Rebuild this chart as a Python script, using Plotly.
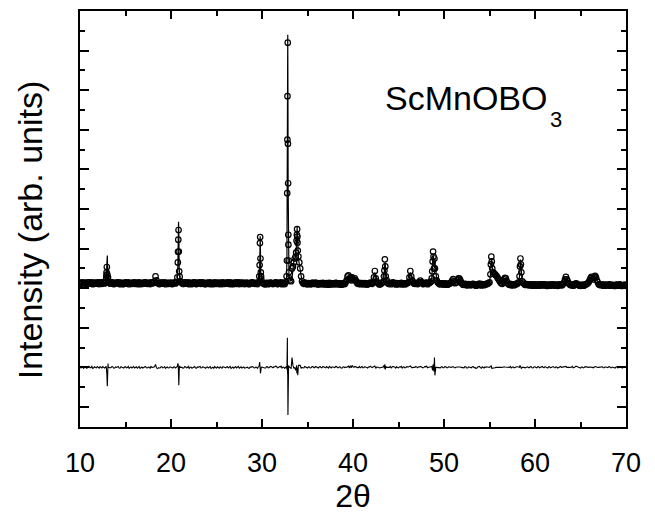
import numpy as np
import plotly.graph_objects as go

# Powder pattern of ScMnOBO3: observed counts on a 0.1 deg scan grid (10..70 deg),
# the refined (calculated) profile on the same grid, plus extra points across the
# sharp reflections. Intensities are in arbitrary units.
scan_start = 10.0
scan_step = 0.1

# one row per degree: values at x.0, x.1, ..., x.9
obs_scan = [
    6.25, 6.22, 6.30, 6.26, 6.20, 6.28, 6.27, 6.21, 6.22, 6.29,   # 10
    6.30, 6.24, 6.24, 6.30, 6.20, 6.23, 6.28, 6.25, 6.23, 6.29,   # 11
    6.26, 6.21, 6.30, 6.27, 6.22, 6.29, 6.27, 6.24, 6.30, 6.65,   # 12
    6.70, 6.35, 6.30, 6.24, 6.24, 6.29, 6.28, 6.21, 6.22, 6.27,   # 13
    6.25, 6.29, 6.30, 6.22, 6.21, 6.28, 6.26, 6.20, 6.22, 6.27,   # 14
    6.29, 6.23, 6.24, 6.30, 6.20, 6.25, 6.27, 6.22, 6.25, 6.29,   # 15
    6.22, 6.27, 6.28, 6.21, 6.25, 6.30, 6.20, 6.24, 6.27, 6.22,   # 16
    6.24, 6.29, 6.30, 6.23, 6.22, 6.27, 6.26, 6.21, 6.30, 6.25,   # 17
    6.25, 6.28, 6.35, 6.60, 6.40, 6.27, 6.25, 6.21, 6.22, 6.28,   # 18
    6.28, 6.23, 6.24, 6.29, 6.20, 6.25, 6.27, 6.22, 6.23, 6.28,   # 19
    6.26, 6.21, 6.22, 6.28, 6.28, 6.24, 6.30, 6.55, 8.45, 6.85,   # 20
    6.35, 6.30, 6.27, 6.22, 6.22, 6.29, 6.28, 6.23, 6.24, 6.30,   # 21
    6.20, 6.26, 6.27, 6.21, 6.24, 6.30, 6.29, 6.22, 6.21, 6.27,   # 22
    6.25, 6.28, 6.30, 6.22, 6.23, 6.29, 6.26, 6.21, 6.21, 6.26,   # 23
    6.28, 6.22, 6.24, 6.29, 6.20, 6.25, 6.26, 6.21, 6.30, 6.24,   # 24
    6.22, 6.28, 6.25, 6.21, 6.28, 6.24, 6.21, 6.29, 6.26, 6.22,   # 25
    6.23, 6.27, 6.29, 6.22, 6.24, 6.30, 6.20, 6.24, 6.27, 6.21,   # 26
    6.25, 6.29, 6.22, 6.25, 6.30, 6.21, 6.26, 6.28, 6.22, 6.27,   # 27
    6.27, 6.21, 6.23, 6.28, 6.26, 6.22, 6.20, 6.27, 6.25, 6.29,   # 28
    6.28, 6.23, 6.22, 6.27, 6.26, 6.21, 6.30, 6.60, 8.58, 6.60,   # 29
    6.30, 6.25, 6.24, 6.20, 6.20, 6.27, 6.26, 6.21, 6.22, 6.28,   # 30
    6.27, 6.23, 6.21, 6.26, 6.25, 6.29, 6.28, 6.21, 6.22, 6.27,   # 31
    6.25, 6.29, 6.20, 6.24, 6.27, 6.21, 6.30, 6.60, 15.70, 8.20,  # 32
    6.50, 6.40, 6.35, 7.00, 7.10, 7.30, 7.50, 7.60, 8.40, 8.30,   # 33
    7.60, 7.30, 7.00, 6.60, 6.35, 6.26, 6.22, 6.28, 6.26, 6.21,   # 34
    6.20, 6.26, 6.25, 6.20, 6.21, 6.27, 6.27, 6.22, 6.22, 6.28,   # 35
    6.24, 6.20, 6.19, 6.25, 6.26, 6.21, 6.21, 6.27, 6.25, 6.19,   # 36
    6.20, 6.26, 6.23, 6.18, 6.27, 6.22, 6.19, 6.25, 6.24, 6.20,   # 37
    6.21, 6.27, 6.26, 6.20, 6.20, 6.25, 6.24, 6.18, 6.19, 6.24,   # 38
    6.25, 6.21, 6.30, 6.40, 6.60, 6.65, 6.45, 6.55, 6.40, 6.55,   # 39
    6.45, 6.42, 6.50, 6.40, 6.30, 6.24, 6.22, 6.27, 6.20, 6.24,   # 40
    6.26, 6.20, 6.21, 6.26, 6.24, 6.19, 6.19, 6.25, 6.23, 6.28,   # 41
    6.25, 6.22, 6.30, 6.55, 6.87, 6.50, 6.35, 6.27, 6.24, 6.19,   # 42
    6.20, 6.25, 6.26, 6.32, 6.60, 7.46, 6.60, 6.40, 6.28, 6.22,   # 43
    6.22, 6.27, 6.20, 6.25, 6.30, 6.26, 6.24, 6.19, 6.26, 6.21,   # 44
    6.20, 6.25, 6.23, 6.27, 6.19, 6.24, 6.25, 6.20, 6.21, 6.26,   # 45
    6.26, 6.30, 6.55, 6.87, 6.60, 6.40, 6.30, 6.24, 6.22, 6.27,   # 46
    6.25, 6.21, 6.28, 6.30, 6.38, 6.31, 6.26, 6.21, 6.22, 6.27,   # 47
    6.24, 6.28, 6.20, 6.25, 6.27, 6.30, 6.35, 6.85, 7.85, 7.00,   # 48
    7.00, 6.60, 6.40, 6.30, 6.26, 6.21, 6.20, 6.25, 6.24, 6.19,   # 49
    6.19, 6.24, 6.23, 6.18, 6.18, 6.23, 6.22, 6.26, 6.30, 6.38,   # 50
    6.46, 6.35, 6.25, 6.28, 6.30, 6.42, 6.50, 6.48, 6.40, 6.28,   # 51
    6.22, 6.18, 6.17, 6.22, 6.21, 6.15, 6.15, 6.21, 6.20, 6.16,   # 52
    6.16, 6.21, 6.22, 6.17, 6.18, 6.13, 6.14, 6.20, 6.20, 6.23,   # 53
    6.17, 6.14, 6.21, 6.19, 6.15, 6.20, 6.19, 6.23, 6.22, 6.26,   # 54
    6.30, 6.70, 7.59, 7.00, 6.80, 6.75, 6.70, 6.65, 6.60, 6.52,   # 55
    6.45, 6.38, 6.30, 6.25, 6.22, 6.35, 6.45, 6.52, 6.50, 6.35,   # 56
    6.25, 6.20, 6.18, 6.22, 6.14, 6.18, 6.20, 6.15, 6.17, 6.22,   # 57
    6.21, 6.25, 6.30, 6.60, 7.50, 6.80, 6.35, 6.28, 6.22, 6.17,   # 58
    6.17, 6.21, 6.20, 6.15, 6.15, 6.20, 6.19, 6.13, 6.14, 6.19,   # 59
    6.18, 6.14, 6.13, 6.18, 6.19, 6.13, 6.15, 6.20, 6.20, 6.15,   # 60
    6.14, 6.19, 6.17, 6.12, 6.12, 6.18, 6.18, 6.13, 6.15, 6.20,   # 61
    6.19, 6.15, 6.13, 6.18, 6.17, 6.12, 6.14, 6.19, 6.20, 6.15,   # 62
    6.16, 6.22, 6.30, 6.45, 6.57, 6.45, 6.35, 6.25, 6.20, 6.16,   # 63
    6.16, 6.20, 6.13, 6.15, 6.18, 6.24, 6.22, 6.19, 6.15, 6.14,   # 64
    6.12, 6.17, 6.17, 6.13, 6.14, 6.20, 6.19, 6.22, 6.25, 6.30,   # 65
    6.40, 6.50, 6.57, 6.52, 6.45, 6.55, 6.62, 6.55, 6.40, 6.30,   # 66
    6.20, 6.18, 6.15, 6.19, 6.18, 6.13, 6.13, 6.18, 6.17, 6.14,   # 67
    6.14, 6.18, 6.19, 6.13, 6.13, 6.17, 6.16, 6.12, 6.12, 6.17,   # 68
    6.18, 6.13, 6.14, 6.19, 6.17, 6.12, 6.12, 6.16, 6.15, 6.18,   # 69
    6.12,                                                         # 70.0
]

calc_scan = [
    6.25, 6.25, 6.25, 6.25, 6.25, 6.25, 6.25, 6.25, 6.25, 6.25,   # 10
    6.25, 6.25, 6.25, 6.25, 6.25, 6.25, 6.25, 6.25, 6.25, 6.25,   # 11
    6.25, 6.25, 6.26, 6.26, 6.25, 6.25, 6.26, 6.27, 6.30, 6.70,   # 12
    7.65, 6.33, 6.30, 6.27, 6.25, 6.25, 6.25, 6.25, 6.25, 6.25,   # 13
    6.25, 6.25, 6.25, 6.25, 6.25, 6.25, 6.25, 6.25, 6.25, 6.25,   # 14
    6.25, 6.25, 6.25, 6.25, 6.25, 6.25, 6.25, 6.25, 6.25, 6.25,   # 15
    6.25, 6.25, 6.25, 6.25, 6.25, 6.25, 6.25, 6.25, 6.25, 6.25,   # 16
    6.25, 6.25, 6.25, 6.25, 6.25, 6.25, 6.25, 6.25, 6.25, 6.25,   # 17
    6.25, 6.27, 6.30, 6.45, 6.42, 6.33, 6.27, 6.25, 6.25, 6.25,   # 18
    6.25, 6.25, 6.25, 6.25, 6.25, 6.25, 6.25, 6.25, 6.25, 6.25,   # 19
    6.25, 6.25, 6.25, 6.25, 6.26, 6.27, 6.30, 6.50, 8.30, 7.00,   # 20
    6.35, 6.30, 6.27, 6.26, 6.25, 6.25, 6.25, 6.25, 6.25, 6.25,   # 21
    6.25, 6.25, 6.25, 6.25, 6.25, 6.25, 6.25, 6.25, 6.25, 6.25,   # 22
    6.25, 6.25, 6.25, 6.25, 6.25, 6.25, 6.25, 6.25, 6.25, 6.25,   # 23
    6.25, 6.25, 6.25, 6.25, 6.25, 6.25, 6.25, 6.25, 6.25, 6.25,   # 24
    6.25, 6.25, 6.25, 6.25, 6.25, 6.25, 6.25, 6.25, 6.25, 6.25,   # 25
    6.25, 6.25, 6.25, 6.25, 6.25, 6.25, 6.25, 6.25, 6.25, 6.25,   # 26
    6.25, 6.25, 6.25, 6.25, 6.25, 6.25, 6.25, 6.25, 6.25, 6.25,   # 27
    6.25, 6.25, 6.25, 6.25, 6.25, 6.25, 6.25, 6.25, 6.25, 6.25,   # 28
    6.25, 6.25, 6.25, 6.25, 6.25, 6.26, 6.30, 6.50, 8.62, 6.60,   # 29
    6.28, 6.26, 6.24, 6.23, 6.23, 6.23, 6.23, 6.23, 6.23, 6.23,   # 30
    6.23, 6.23, 6.23, 6.23, 6.23, 6.23, 6.23, 6.23, 6.23, 6.23,   # 31
    6.23, 6.23, 6.23, 6.23, 6.25, 6.26, 6.30, 6.55, 15.90, 8.30,  # 32
    6.50, 6.42, 6.40, 6.50, 7.00, 7.35, 7.50, 7.75, 8.30, 8.45,   # 33
    7.50, 7.20, 6.90, 6.65, 6.35, 6.28, 6.25, 6.23, 6.23, 6.23,   # 34
    6.23, 6.23, 6.23, 6.23, 6.23, 6.23, 6.23, 6.23, 6.23, 6.23,   # 35
    6.22, 6.22, 6.22, 6.22, 6.22, 6.22, 6.22, 6.22, 6.22, 6.22,   # 36
    6.22, 6.22, 6.22, 6.22, 6.22, 6.22, 6.22, 6.22, 6.22, 6.22,   # 37
    6.22, 6.22, 6.22, 6.22, 6.22, 6.22, 6.22, 6.22, 6.22, 6.22,   # 38
    6.22, 6.22, 6.28, 6.40, 6.55, 6.58, 6.48, 6.46, 6.42, 6.45,   # 39
    6.42, 6.42, 6.45, 6.38, 6.30, 6.25, 6.23, 6.22, 6.22, 6.22,   # 40
    6.22, 6.22, 6.22, 6.22, 6.22, 6.22, 6.22, 6.22, 6.22, 6.22,   # 41
    6.22, 6.23, 6.28, 6.50, 6.80, 6.55, 6.33, 6.26, 6.23, 6.22,   # 42
    6.22, 6.23, 6.23, 6.30, 6.50, 7.30, 6.55, 6.40, 6.28, 6.24,   # 43
    6.22, 6.22, 6.22, 6.23, 6.25, 6.24, 6.22, 6.22, 6.22, 6.22,   # 44
    6.22, 6.22, 6.22, 6.22, 6.22, 6.22, 6.22, 6.22, 6.22, 6.22,   # 45
    6.23, 6.28, 6.50, 6.80, 6.58, 6.42, 6.30, 6.25, 6.22, 6.22,   # 46
    6.22, 6.23, 6.25, 6.28, 6.33, 6.30, 6.24, 6.23, 6.22, 6.22,   # 47
    6.22, 6.22, 6.22, 6.23, 6.25, 6.28, 6.33, 6.90, 7.70, 7.20,   # 48
    7.40, 6.60, 6.40, 6.30, 6.25, 6.23, 6.22, 6.22, 6.21, 6.21,   # 49
    6.20, 6.20, 6.20, 6.20, 6.20, 6.20, 6.21, 6.24, 6.30, 6.36,   # 50
    6.42, 6.35, 6.27, 6.27, 6.30, 6.40, 6.48, 6.45, 6.38, 6.28,   # 51
    6.22, 6.20, 6.19, 6.18, 6.18, 6.18, 6.18, 6.18, 6.18, 6.18,   # 52
    6.18, 6.18, 6.18, 6.18, 6.18, 6.18, 6.18, 6.18, 6.18, 6.18,   # 53
    6.18, 6.18, 6.18, 6.18, 6.18, 6.18, 6.19, 6.20, 6.22, 6.25,   # 54
    6.30, 6.65, 7.50, 7.05, 6.85, 6.78, 6.72, 6.65, 6.58, 6.52,   # 55
    6.45, 6.37, 6.30, 6.25, 6.22, 6.32, 6.42, 6.50, 6.48, 6.35,   # 56
    6.24, 6.20, 6.18, 6.17, 6.17, 6.17, 6.17, 6.17, 6.17, 6.17,   # 57
    6.18, 6.22, 6.30, 6.60, 7.45, 6.85, 6.35, 6.27, 6.22, 6.19,   # 58
    6.17, 6.17, 6.17, 6.16, 6.16, 6.16, 6.16, 6.16, 6.16, 6.16,   # 59
    6.15, 6.15, 6.15, 6.15, 6.15, 6.15, 6.15, 6.15, 6.15, 6.15,   # 60
    6.15, 6.15, 6.15, 6.15, 6.15, 6.15, 6.15, 6.15, 6.15, 6.15,   # 61
    6.15, 6.15, 6.15, 6.15, 6.15, 6.15, 6.15, 6.15, 6.15, 6.15,   # 62
    6.15, 6.20, 6.28, 6.42, 6.52, 6.45, 6.33, 6.25, 6.20, 6.17,   # 63
    6.15, 6.15, 6.15, 6.16, 6.16, 6.18, 6.18, 6.16, 6.15, 6.15,   # 64
    6.15, 6.15, 6.15, 6.15, 6.15, 6.16, 6.17, 6.20, 6.25, 6.30,   # 65
    6.38, 6.48, 6.55, 6.52, 6.47, 6.52, 6.58, 6.52, 6.40, 6.30,   # 66
    6.20, 6.17, 6.15, 6.15, 6.15, 6.15, 6.15, 6.15, 6.15, 6.15,   # 67
    6.15, 6.15, 6.15, 6.15, 6.15, 6.15, 6.15, 6.15, 6.15, 6.15,   # 68
    6.15, 6.15, 6.15, 6.15, 6.15, 6.15, 6.15, 6.15, 6.15, 6.15,   # 69
    6.13,                                                         # 70.0
]

# Additional points measured across the sharp reflections (between grid steps)
peak_two_theta = [
    12.88, 12.92, 12.95, 13.04, 13.08,
    20.75, 20.77, 20.83, 20.86, 20.95,
    29.74, 29.77, 29.83, 29.87, 29.92,
    32.74, 32.77, 32.79, 32.83, 32.85, 32.87, 32.89, 32.92, 32.96,
    33.75, 33.83, 33.86, 33.89, 33.93,
    43.45, 43.55,
    48.65, 48.75, 48.85, 48.95,
    55.15, 55.25,
    58.35, 58.45,
]
peak_obs = [
    6.50, 6.80, 7.07, 6.50, 6.55,
    7.30, 7.84, 8.94, 7.85, 6.58,
    7.17, 8.28, 7.50, 6.80, 6.45,
    7.40, 10.80, 13.50, 18.40, 13.30, 11.30, 8.70, 7.40, 6.80,
    7.80, 8.70, 8.98, 8.60, 7.90,
    6.90, 7.10,
    6.50, 7.35, 7.60, 7.50,
    7.20, 7.35,
    7.10, 7.20,
]
peak_calc = [
    6.45, 6.90, 7.40, 6.90, 6.35,
    7.10, 7.70, 9.36, 8.75, 6.50,
    6.90, 8.10, 7.80, 6.80, 6.45,
    7.50, 10.50, 12.00, 18.80, 15.70, 11.20, 8.80, 7.30, 6.75,
    7.90, 9.00, 9.10, 8.60, 8.30,
    6.95, 7.20,
    6.45, 7.50, 7.50, 7.00,
    7.10, 7.40,
    7.00, 7.25,
]

# vertical shift applied to the difference curve (obs - calc)
diff_offset = 2.0

assert len(obs_scan) == len(calc_scan) == 601
assert len(peak_two_theta) == len(peak_obs) == len(peak_calc)

grid = scan_start + scan_step * np.arange(len(obs_scan))
two_theta = np.concatenate([grid, peak_two_theta])
i_obs = np.concatenate([obs_scan, peak_obs])
i_calc = np.concatenate([calc_scan, peak_calc])
order = np.argsort(two_theta, kind="stable")
two_theta, i_obs, i_calc = two_theta[order], i_obs[order], i_calc[order]
i_diff = i_obs - i_calc + diff_offset

FONT = "Liberation Sans, Arial, Helvetica, sans-serif"

fig = go.Figure()
fig.add_trace(go.Scatter(
    x=two_theta, y=i_obs, mode="markers", name="observed",
    marker=dict(symbol="circle-open", size=5.5, color="black", line=dict(width=1.2, color="black")),
))
fig.add_trace(go.Scatter(
    x=two_theta, y=i_calc, mode="lines", name="calculated",
    line=dict(color="black", width=1.2),
))
fig.add_trace(go.Scatter(
    x=two_theta, y=i_diff, mode="lines", name="difference",
    line=dict(color="black", width=1.1),
))

axis_common = dict(
    ticks="inside", tickcolor="black", tickwidth=2,
    showline=True, linecolor="black", linewidth=2, mirror="allticks",
    showgrid=False, zeroline=False,
)

fig.update_xaxes(
    range=[10, 70], tick0=10, dtick=10, ticklen=8,
    minor=dict(tick0=10, dtick=5, ticks="inside", ticklen=5, tickwidth=2, tickcolor="black", showgrid=False),
    tickfont=dict(size=27, family=FONT, color="black"),
    ticklabelstandoff=11,
    title=dict(text="2θ", font=dict(size=32, family=FONT, color="black"), standoff=6),
    **axis_common,
)
fig.update_yaxes(
    range=[-1.01, 20.0], tick0=0, dtick=2, ticklen=9, showticklabels=False,
    minor=dict(tick0=0, dtick=1, ticks="inside", ticklen=5, tickwidth=2, tickcolor="black", showgrid=False),
    **axis_common,
)

fig.add_annotation(
    text="Intensity (arb. units)", textangle=-90,
    xref="paper", yref="paper", x=-0.09, y=0.475,
    xanchor="center", yanchor="middle", showarrow=False,
    font=dict(size=34, family=FONT, color="black"),
)
fig.add_annotation(
    text="ScMnOBO", xref="x", yref="y", x=43.3, y=15.6,
    xanchor="left", yanchor="middle", showarrow=False,
    font=dict(size=34, family=FONT, color="black"),
)
fig.add_annotation(
    text="3", xref="x", yref="y", x=62.35, y=14.5,
    xanchor="center", yanchor="middle", showarrow=False,
    font=dict(size=22, family=FONT, color="black"),
)

fig.update_layout(
    width=655, height=517,
    margin=dict(l=80, r=29, t=11, b=90, autoexpand=False),
    plot_bgcolor="white", paper_bgcolor="white",
    showlegend=False,
    font=dict(family=FONT, color="black"),
)

fig.write_html("out.html")
